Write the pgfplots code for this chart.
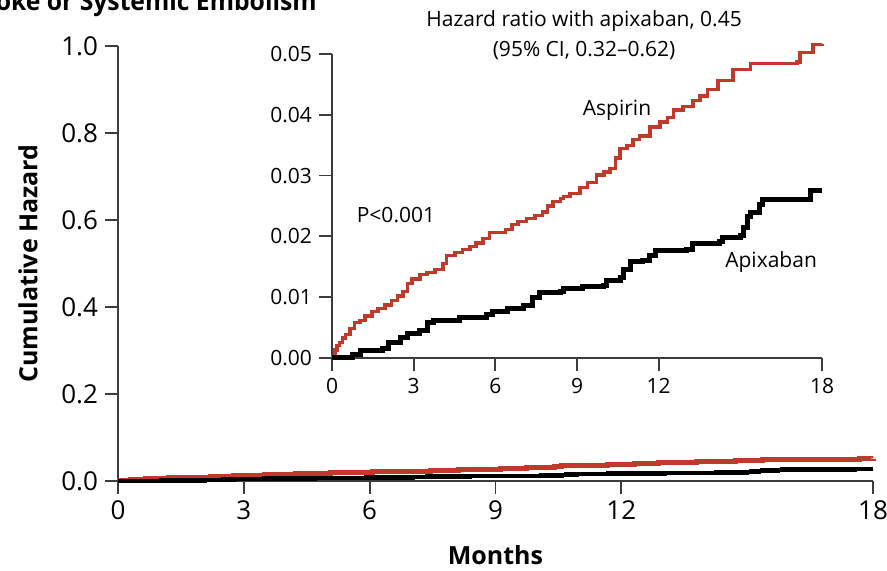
\documentclass[border=0pt]{standalone}
\usepackage{fontspec}
\setmainfont{Open Sans}
\usepackage{pgfplots}
\pgfplotsset{compat=1.18}
\usepackage{pgfplotstable}
\definecolor{aspred}{RGB}{192,57,43}
\definecolor{axgray}{RGB}{60,60,60}

% cumulative hazard
\pgfplotstableread{
m v
0 0
0.04 0.0003
0.11 0.0013
0.18 0.0020
0.29 0.0026
0.40 0.0033
0.51 0.0039
0.66 0.0049
0.84 0.0058
1.03 0.0062
1.21 0.0069
1.47 0.0076
1.69 0.0082
1.95 0.0087
2.20 0.0095
2.42 0.0102
2.61 0.0109
2.76 0.0122
2.94 0.0130
3.23 0.0137
3.49 0.0141
3.78 0.0145
4.08 0.0156
4.22 0.0169
4.52 0.0174
4.78 0.0179
5.07 0.0184
5.29 0.0189
5.55 0.0197
5.80 0.0206
6.06 0.0207
6.36 0.0212
6.61 0.0219
6.83 0.0224
7.13 0.0229
7.46 0.0234
7.72 0.0240
7.93 0.0250
8.12 0.0258
8.38 0.0262
8.49 0.0265
8.74 0.0271
9.11 0.0280
9.40 0.0288
9.73 0.0301
9.99 0.0306
10.21 0.0312
10.40 0.0329
10.58 0.0345
10.84 0.0350
11.06 0.0359
11.31 0.0365
11.68 0.0380
12.05 0.0388
12.31 0.0396
12.53 0.0408
12.89 0.0414
13.26 0.0424
13.52 0.0431
13.78 0.0441
14.18 0.0457
14.73 0.0474
15.36 0.0485
17.08 0.0487
17.19 0.0502
17.67 0.0515
18.00 0.0516
}\aspirin

\pgfplotstableread{
m v
0 0
0.55 0
0.77 0.0005
1.03 0.0013
1.87 0.0016
2.06 0.0026
2.50 0.0033
2.76 0.0041
3.23 0.0046
3.49 0.0058
3.71 0.0062
4.44 0.0062
4.70 0.0067
5.69 0.0071
5.91 0.0076
6.43 0.0082
7.02 0.0087
7.38 0.0100
7.64 0.0107
8.38 0.0109
8.49 0.0115
9.22 0.0117
9.96 0.0120
10.10 0.0128
10.58 0.0133
10.69 0.0145
10.95 0.0158
11.42 0.0161
11.68 0.0169
11.87 0.0176
13.04 0.0178
13.26 0.0189
14.25 0.0191
14.36 0.0199
14.99 0.0202
15.10 0.0214
15.28 0.0232
15.36 0.0240
15.72 0.0252
15.83 0.0260
17.45 0.0260
17.56 0.0276
18.00 0.0276
}\apixaban

\pgfplotsset{
  kmaxis/.style={
    scale only axis,
    axis lines=left,
    axis line style={-, draw=axgray, line width=0.9pt},
    tick align=outside,
    major tick length=6.5pt,
    tick style={axgray, line width=0.9pt},
    xmin=0, xmax=18,
    xtick={0,3,6,9,12,18},
    enlargelimits=false,
    clip=false,
    scaled y ticks=false,
    /pgf/number format/assume math mode=true,
  },
}

\begin{document}
\begin{tikzpicture}
\useasboundingbox (-59pt,-45pt) rectangle (384.5pt,240.5pt);

\begin{axis}[
  kmaxis,
  at={(0,0)}, anchor=south west,
  width=377.5pt, height=217.5pt,
  ymin=0, ymax=1,
  ytick={0,0.2,0.4,0.6,0.8,1.0},
  yticklabel style={/pgf/number format/.cd, fixed, fixed zerofill, precision=1},
  ticklabel style={font=\fontsize{13}{13}\selectfont},
  xlabel={Months},
  ylabel={Cumulative Hazard},
  every axis x label/.style={at={(rel axis cs:0.5,0)}, yshift=-37pt, anchor=center,
    font=\fontsize{12.5}{12.5}\selectfont\bfseries},
  every axis y label/.style={at={(rel axis cs:0,0.5)}, xshift=-45pt, rotate=90, anchor=center,
    font=\fontsize{12.5}{12.5}\selectfont\bfseries},
]
\addplot[const plot, aspred, line width=2.5pt] table[x=m, y=v]{\aspirin};
\addplot[const plot, black, line width=2.2pt] table[x=m, y=v]{\apixaban};
\end{axis}

\node[anchor=base east, inner sep=0pt, xscale=0.95, font=\fontsize{13}{13}\selectfont\bfseries]
  at (99.5pt,235pt) {Stroke or Systemic Embolism};

\begin{axis}[
  kmaxis,
  at={(107pt,61.5pt)}, anchor=south west,
  width=245pt, height=152pt,
  ymin=0, ymax=0.05,
  ytick={0,0.01,0.02,0.03,0.04,0.05},
  yticklabel style={/pgf/number format/.cd, fixed, fixed zerofill, precision=2},
  ticklabel style={font=\fontsize{10.5}{10.5}\selectfont},
]
\addplot[const plot, aspred, line width=1.6pt] table[x=m, y=v]{\aspirin};
\addplot[const plot, black, line width=2.5pt] table[x=m, y=v]{\apixaban};
\node[align=center, font=\fontsize{10.5}{15}\selectfont] at (axis cs:9.26,0.0531)
  {Hazard ratio with apixaban, 0.45\\(95\% CI, 0.32–0.62)};
\node[font=\fontsize{10.5}{10.5}\selectfont] at (axis cs:10.47,0.0408) {Aspirin};
\node[font=\fontsize{10.5}{10.5}\selectfont] at (axis cs:2.35,0.0235) {P<0.001};
\node[font=\fontsize{10.5}{10.5}\selectfont] at (axis cs:16.13,0.0158) {Apixaban};
\end{axis}
\end{tikzpicture}
\end{document}
